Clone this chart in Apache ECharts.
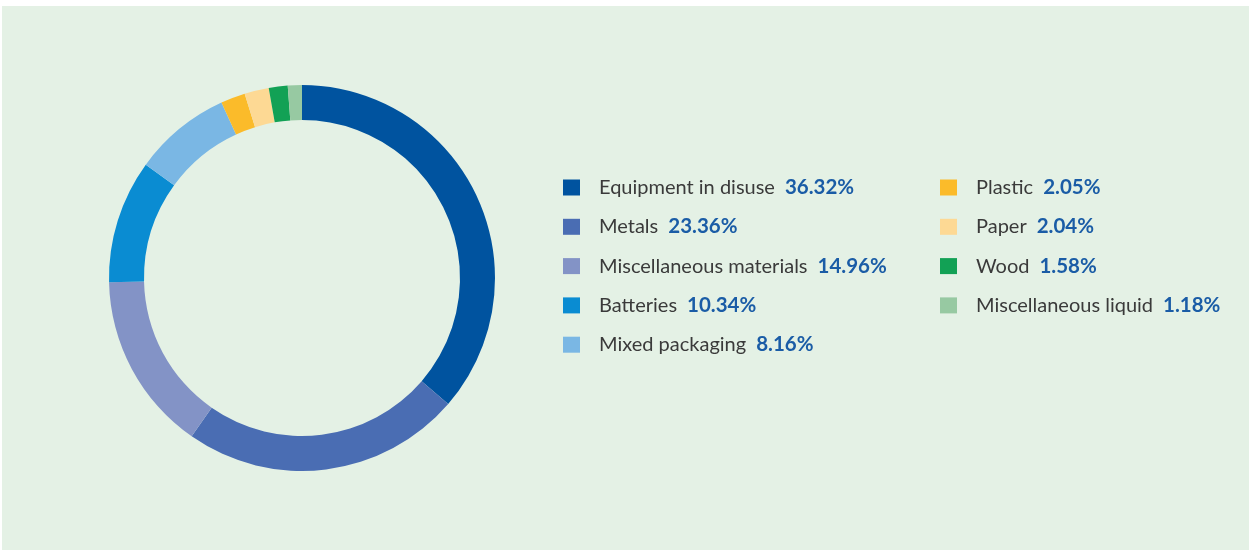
<!DOCTYPE html>
<html>
<head>
<meta charset="utf-8">
<script src="https://cdn.jsdelivr.net/npm/echarts@6/dist/echarts.min.js"></script>
<style>
  html, body { margin: 0; padding: 0; background: #ffffff; width: 1250px; height: 550px; overflow: hidden; }
  #chart { position: absolute; left: 2px; top: 6px; width: 1247px; height: 544px; background: #e4f1e5; }
</style>
</head>
<body>
<div id="chart"></div>
<script>
// Waste composition by type (share of total, %)
const categories = [
  'Equipment in disuse', 'Metals', 'Miscellaneous materials', 'Batteries', 'Mixed packaging',
  'Plastic', 'Paper', 'Wood', 'Miscellaneous liquid'
];
const shares = [36.32, 23.36, 14.96, 10.34, 8.16, 2.05, 2.04, 1.58, 1.18];
const colors = ['#00539f', '#4a6db3', '#8393c6', '#0a8cd2', '#7ab7e4', '#fbbb2a', '#fdd994', '#12a155', '#97c9a2'];

const leftColumn = categories.slice(0, 5);
const rightColumn = categories.slice(5);

const chart = echarts.init(document.getElementById('chart'), null, { renderer: 'canvas' });

const fontFamily = '"Lato", "Open Sans", sans-serif';

function legendFor(names, left) {
  return {
    orient: 'vertical',
    left: left,
    top: 171,
    padding: 0,
    data: names,
    icon: 'rect',
    itemWidth: 17,
    itemHeight: 16,
    itemGap: 18.3,
    selectedMode: false,
    formatter: function (name) {
      const v = shares[categories.indexOf(name)];
      return '{n|' + name + '}{v|' + v.toFixed(2) + '%}';
    },
    textStyle: {
      padding: [0, 0, 0, 14],
      rich: {
        n: { fontFamily: fontFamily, fontSize: 20, color: '#3a3a3a', lineHeight: 22 },
        v: { fontFamily: fontFamily, fontSize: 20.5, fontWeight: 'bold', color: '#1a5ca6', lineHeight: 22, padding: [0, 0, 0, 10] }
      }
    }
  };
}

chart.setOption({
  animation: false,
  color: colors,
  legend: [legendFor(leftColumn, 561), legendFor(rightColumn, 938)],
  series: [{
    type: 'pie',
    center: [300, 272],
    radius: [158, 193],
    startAngle: 90,
    clockwise: true,
    silent: true,
    label: { show: false },
    labelLine: { show: false },
    itemStyle: { borderWidth: 0 },
    data: categories.map((name, i) => ({ name: name, value: shares[i] }))
  }]
});
</script>
</body>
</html>
